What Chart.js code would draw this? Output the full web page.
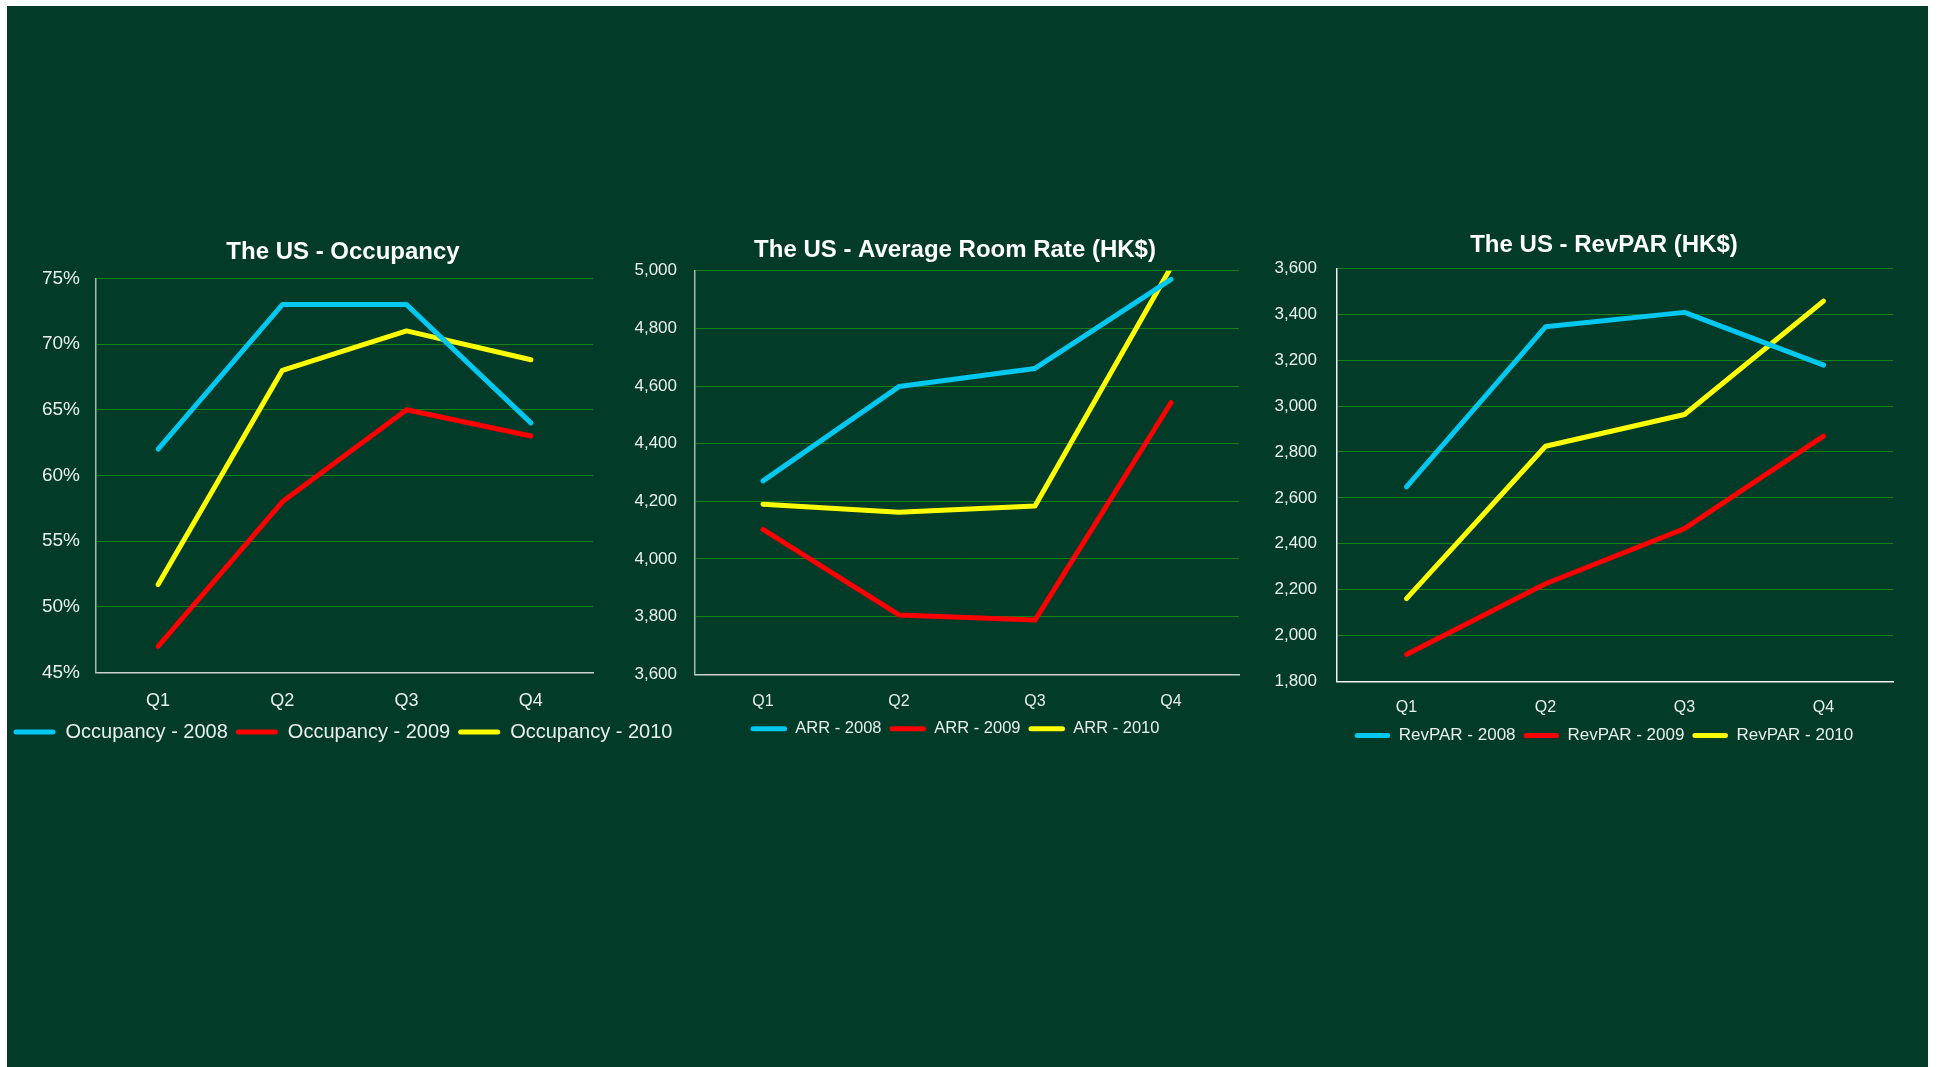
<!DOCTYPE html>
<html>
<head>
<meta charset="utf-8">
<title>The US - Occupancy / ARR / RevPAR</title>
<script src="https://cdn.jsdelivr.net/npm/chart.js@4.4.1/dist/chart.umd.min.js"></script>
<style>
  html, body { margin: 0; padding: 0; background: #fff; overflow: hidden; width: 1937px; height: 1067px; }
  #slide { position: absolute; left: 7px; top: 6px; width: 1921px; height: 1061px; background: #033b29; }
  canvas { position: absolute; top: 220px; }
</style>
</head>
<body>
<div id="slide"></div>
<canvas id="chart-occ" width="686" height="532" style="left:0px"></canvas>
<canvas id="chart-arr" width="670" height="527" style="left:620px"></canvas>
<canvas id="chart-revpar" width="684" height="534" style="left:1262px"></canvas>
<script>
// ---------- data ----------
const QUARTERS = ["Q1", "Q2", "Q3", "Q4"];

const OCC_2008 = [62, 73, 73, 64];
const OCC_2009 = [47, 58, 65, 63];
const OCC_2010 = [51.7, 68, 71, 68.8];

const ARR_2008 = [4271, 4598, 4661, 4970];
const ARR_2009 = [4103, 3806, 3788, 4542];
const ARR_2010 = [4190, 4162, 4184, 5012];

const REVPAR_2008 = [2648, 3345, 3408, 3178];
const REVPAR_2009 = [1918, 2226, 2466, 2869];
const REVPAR_2010 = [2161, 2825, 2963, 3457];

// y-axis ranges [min, max, step]
const OCC_RANGE = [45, 75, 5];
const ARR_RANGE = [3600, 5000, 200];
const REVPAR_RANGE = [1800, 3600, 200];

const COLORS = {
  y2008: "#00c8f0",
  y2009: "#ff0000",
  y2010: "#ffff00",
  text: "#e9efeb",
  grid: "#138313",
  axis: "#a9b8b1",
};
const FONT = "'Liberation Sans', Arial, sans-serif";

Chart.defaults.font.family = FONT;
Chart.defaults.color = COLORS.text;

// ---------- helpers ----------
const fmtPct = (v) => v + "%";
const fmtNum = (v) => v.toLocaleString("en-US");

function series(label, data, color) {
  return {
    label, data,
    borderColor: color, backgroundColor: color,
    borderWidth: 5, pointRadius: 0, tension: 0,
    borderCapStyle: "round", borderJoinStyle: "round",
    clip: 0,
  };
}

// cfg: layout numbers for one chart (px, measured against the slide)
function makeLine(canvasId, title, datasets, range, tickFmt, cfg) {
  const [min, max, step] = range;
  return new Chart(document.getElementById(canvasId), {
    type: "line",
    data: { labels: QUARTERS, datasets },
    options: {
      responsive: false,
      animation: false,
      layout: { padding: 0 },
      plugins: {
        tooltip: { enabled: false },
        title: {
          display: true, text: title, color: "#ffffff",
          font: { size: 24, weight: "bold" },
          padding: { top: cfg.titleTop, bottom: cfg.titleBottom },
        },
        legend: {
          position: "bottom",
          labels: {
            font: { size: cfg.legendFont },
            color: COLORS.text,
            boxWidth: cfg.swatch, boxHeight: 5, padding: 8,
            generateLabels: (chart) => chart.data.datasets.map((ds, i) => ({
              text: ds.label, datasetIndex: i,
              fillStyle: ds.borderColor, strokeStyle: ds.borderColor,
              lineWidth: 0, borderRadius: 2.5, fontColor: COLORS.text,
            })),
          },
        },
      },
      scales: {
        x: {
          offset: true,
          grid: { display: false, drawTicks: false },
          border: { display: true, color: cfg.axisX, width: 1.5 },
          ticks: { font: { size: cfg.xFont }, padding: cfg.xPad, color: COLORS.text },
          afterFit: (s) => { s.height = cfg.xHeight; },
        },
        y: {
          min, max,
          grid: {
            drawTicks: false,
            color: (c) => (c.index === 0 ? "rgba(0,0,0,0)" : COLORS.grid),
            lineWidth: 1,
          },
          border: { display: true, color: cfg.axisY, width: 1.5 },
          ticks: { stepSize: step, font: { size: cfg.yFont }, padding: cfg.yPad, color: COLORS.text, callback: tickFmt },
          afterFit: (s) => { s.width = cfg.yWidth; },
        },
        // empty right-hand axis: only reserves the blank strip right of the plot,
        // so title and legend stay centred on the whole canvas
        spacer: {
          position: "right",
          grid: { display: false, drawTicks: false },
          border: { display: false },
          ticks: { display: false },
          afterFit: (s) => { s.width = cfg.padRight; },
        },
      },
    },
  });
}

// ---------- charts ----------
makeLine("chart-occ", "The US - Occupancy", [
  series("Occupancy - 2008", OCC_2008, COLORS.y2008),
  series("Occupancy - 2009", OCC_2009, COLORS.y2009),
  series("Occupancy - 2010", OCC_2010, COLORS.y2010),
], OCC_RANGE, fmtPct, {
  padRight: 93, yWidth: 96, yPad: 16, yFont: 19, xFont: 18, xPad: 17.5, xHeight: 41.3,
  titleTop: 17.6, titleBottom: 11.9, legendFont: 20, swatch: 42,
  axisX: "#c9d2ce", axisY: COLORS.axis,
});

makeLine("chart-arr", "The US - Average Room Rate (HK$)", [
  series("ARR - 2008", ARR_2008, COLORS.y2008),
  series("ARR - 2009", ARR_2009, COLORS.y2009),
  series("ARR - 2010", ARR_2010, COLORS.y2010),
], ARR_RANGE, fmtNum, {
  padRight: 51, yWidth: 75, yPad: 18, yFont: 17, xFont: 16, xPad: 17.5, xHeight: 38.2,
  titleTop: 15.5, titleBottom: 6.4, legendFont: 16.5, swatch: 36.5,
  axisX: "#c9d2ce", axisY: COLORS.axis,
});

makeLine("chart-revpar", "The US - RevPAR (HK$)", [
  series("RevPAR - 2008", REVPAR_2008, COLORS.y2008),
  series("RevPAR - 2009", REVPAR_2009, COLORS.y2009),
  series("RevPAR - 2010", REVPAR_2010, COLORS.y2010),
], REVPAR_RANGE, fmtNum, {
  padRight: 53, yWidth: 75, yPad: 20, yFont: 17, xFont: 16, xPad: 16, xHeight: 37.5,
  titleTop: 10.5, titleBottom: 9, legendFont: 17, swatch: 35.5,
  axisX: "#f2f2f2", axisY: "#f2f2f2",
});
</script>
</body>
</html>
